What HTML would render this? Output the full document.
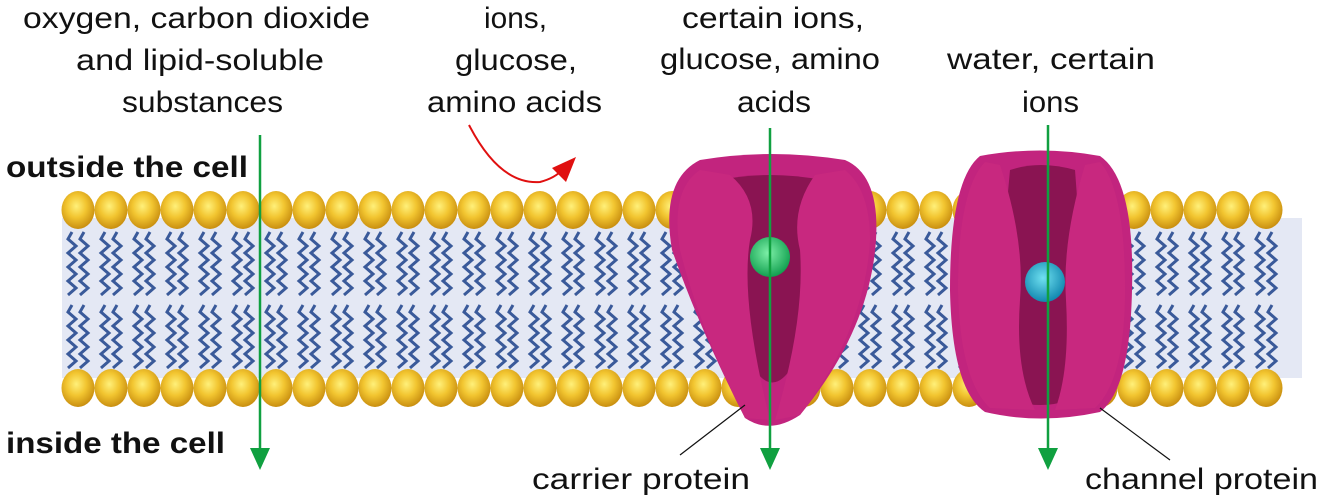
<!DOCTYPE html>
<html><head><meta charset="utf-8"><style>
html,body{margin:0;padding:0;background:#fff;}
svg{display:block;}
text{font-family:"Liberation Sans","DejaVu Sans",sans-serif;fill:#111;}
</style></head><body>
<svg id="s" width="1328" height="500" viewBox="0 0 1328 500">
<defs>
<radialGradient id="head" cx="0.45" cy="0.4" r="0.6">
<stop offset="0" stop-color="#fff07a"/><stop offset="0.5" stop-color="#f2c530"/><stop offset="1" stop-color="#c98f10"/>
</radialGradient>
<radialGradient id="green" cx="0.45" cy="0.4" r="0.6"><stop offset="0" stop-color="#7ef0a8"/><stop offset="1" stop-color="#12a050"/></radialGradient>
<radialGradient id="blue" cx="0.45" cy="0.4" r="0.6"><stop offset="0" stop-color="#6fe0f0"/><stop offset="1" stop-color="#1288b0"/></radialGradient>
</defs>
<rect x="62" y="218" width="1240" height="160" fill="#e4e8f4"/>
<g id="tails"></g>
<g id="heads"></g>

<g>
<path d="M700 160 Q770 148 845 160 Q880 175 876 240 Q870 330 800 415 Q770 435 745 418 Q700 330 672 250 Q660 180 700 160Z" fill="#c2247e"/>
<path d="M720 180 Q770 170 822 180 Q835 260 790 370 Q772 395 755 370 Q712 260 720 180Z" fill="#8a1452"/>
<path d="M730 175 Q760 200 750 240 Q740 300 770 420 L745 418 Q700 330 680 250 Q670 190 700 170Z" fill="#c8287f"/>
<path d="M815 175 Q790 210 800 250 Q805 320 775 420 L800 415 Q865 330 870 240 Q870 190 845 170Z" fill="#c8287f"/>
<circle cx="770" cy="257" r="20" fill="url(#green)"/>
</g>

<g>
<path d="M980 156 Q1040 145 1100 156 Q1135 180 1132 290 Q1130 390 1100 412 Q1040 425 985 412 Q952 390 950 290 Q950 180 980 156Z" fill="#c2247e"/>
<path d="M1010 170 Q1040 160 1075 170 Q1085 290 1070 400 Q1040 410 1012 400 Q998 290 1010 170Z" fill="#8a1452"/>
<path d="M1000 165 Q1025 240 1020 300 Q1015 370 1035 410 L990 408 Q960 380 958 290 Q958 190 985 162Z" fill="#c8287f"/>
<path d="M1085 165 Q1062 240 1066 300 Q1070 370 1055 410 L1095 408 Q1125 380 1125 290 Q1125 190 1100 162Z" fill="#c8287f"/>
<circle cx="1045" cy="282" r="20" fill="url(#blue)"/>
</g>

<g font-size="30">
<text x="23" y="28" textLength="347" lengthAdjust="spacingAndGlyphs">oxygen, carbon dioxide</text>
<text x="76" y="70" textLength="248" lengthAdjust="spacingAndGlyphs">and lipid-soluble</text>
<text x="122" y="112" textLength="161" lengthAdjust="spacingAndGlyphs">substances</text>
<text x="484" y="28" textLength="63" lengthAdjust="spacingAndGlyphs">ions,</text>
<text x="455" y="70" textLength="122" lengthAdjust="spacingAndGlyphs">glucose,</text>
<text x="427" y="112" textLength="175" lengthAdjust="spacingAndGlyphs">amino acids</text>
<text x="682" y="28" textLength="182" lengthAdjust="spacingAndGlyphs">certain ions,</text>
<text x="660" y="69" textLength="220" lengthAdjust="spacingAndGlyphs">glucose, amino</text>
<text x="737" y="112" textLength="74" lengthAdjust="spacingAndGlyphs">acids</text>
<text x="947" y="69" textLength="208" lengthAdjust="spacingAndGlyphs">water, certain</text>
<text x="1022" y="112" textLength="57" lengthAdjust="spacingAndGlyphs">ions</text>
<text x="532" y="489" textLength="218" lengthAdjust="spacingAndGlyphs">carrier protein</text>
<text x="1085" y="489" textLength="233" lengthAdjust="spacingAndGlyphs">channel protein</text>
</g>
<g font-size="30" font-weight="bold">
<text x="6" y="177" textLength="242" lengthAdjust="spacingAndGlyphs">outside the cell</text>
<text x="6" y="453" textLength="219" lengthAdjust="spacingAndGlyphs">inside the cell</text>
</g>

<line x1="745" y1="405" x2="680" y2="455" stroke="#111" stroke-width="1.2"/>
<line x1="1100" y1="408" x2="1170" y2="460" stroke="#111" stroke-width="1.2"/>

<path d="M469 125 Q500 185 540 182 Q555 178 562 170" fill="none" stroke="#e01010" stroke-width="2"/>
<polygon points="576,157 552,168 566,182" fill="#e01010"/>

<g stroke="#10a040" stroke-width="2.5" fill="#10a040">
<line x1="260" y1="135" x2="260" y2="450"/>
<polygon points="250,448 270,448 260,470" stroke="none"/>
<line x1="770" y1="128" x2="770" y2="450"/>
<polygon points="760,448 780,448 770,470" stroke="none"/>
<line x1="1048" y1="125" x2="1048" y2="450"/>
<polygon points="1038,448 1058,448 1048,470" stroke="none"/>
</g>
</svg>
<script>
var NS='http://www.w3.org/2000/svg';
var heads=document.getElementById('heads'),tails=document.getElementById('tails');
for(var x=78;x<=1290;x+=33){
  [210,388].forEach(function(y){
    var e=document.createElementNS(NS,'ellipse');
    e.setAttribute('cx',x);e.setAttribute('cy',y);e.setAttribute('rx',16.5);e.setAttribute('ry',19);
    e.setAttribute('fill','url(#head)');
    
    
    heads.appendChild(e);
  });
  [[-6,232,290],[6,232,290],[-6,305,365],[6,305,365]].forEach(function(t){
    var tx=x+t[0];
    var d='M'+tx+' '+t[1];
    for(var y=t[1],k=0;y<t[2];y+=7,k++){d+=' L'+(tx+(k%2?4:-4))+' '+(y+7);}
    var p=document.createElementNS(NS,'path');
    p.setAttribute('d',d);p.setAttribute('fill','none');p.setAttribute('stroke','#3a5a9a');p.setAttribute('stroke-width','3');
    
    
    tails.appendChild(p);
  });
}
</script>
</body></html>
